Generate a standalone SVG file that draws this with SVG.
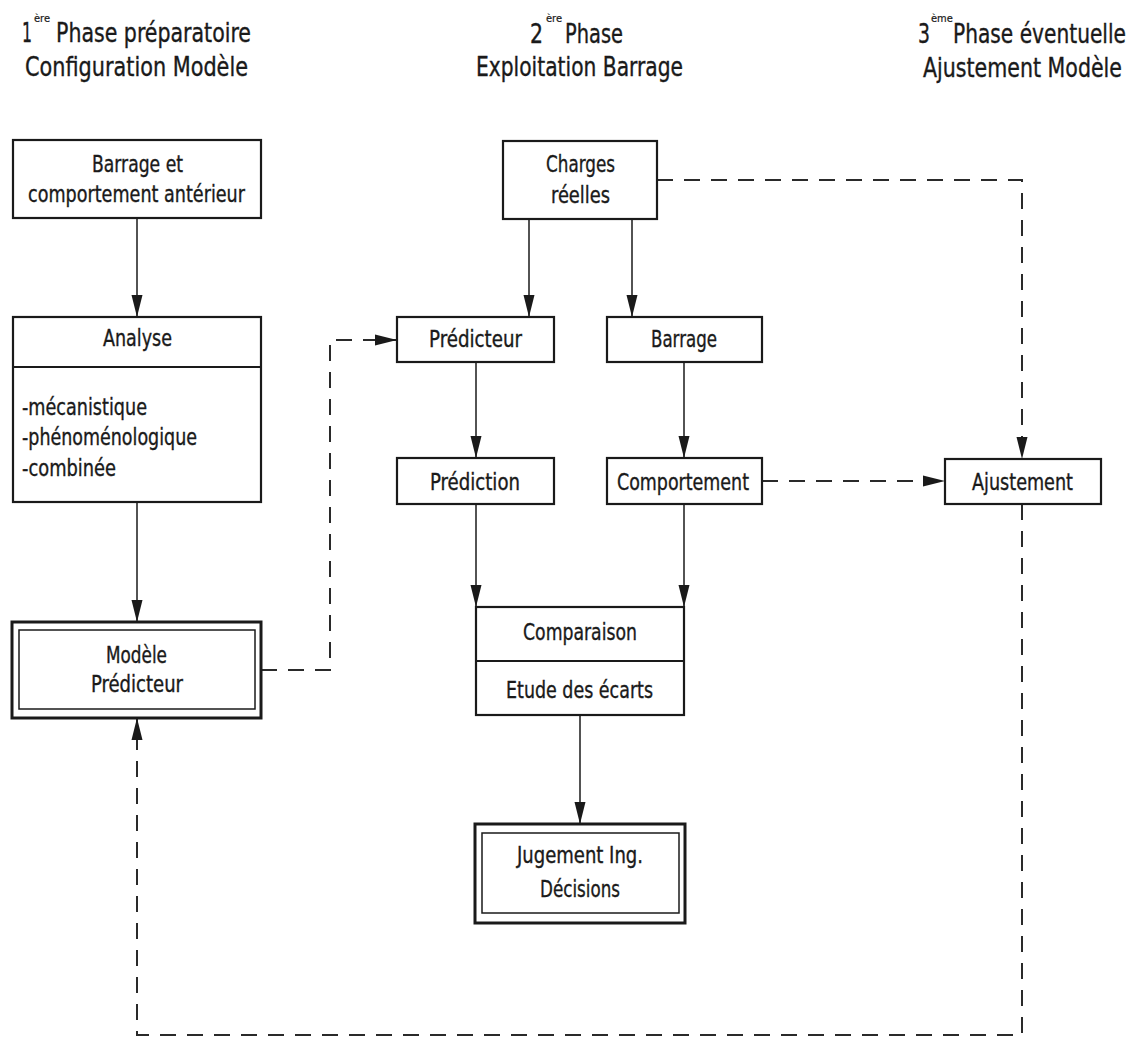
<svg xmlns="http://www.w3.org/2000/svg" width="1136" height="1040" viewBox="0 0 1136 1040">
<defs>
<style>
text{font-family:"DejaVu Sans Condensed","DejaVu Sans",sans-serif;font-stretch:condensed;fill:#1a1a1a;stroke:#1a1a1a;stroke-width:0.35}
.t{font-size:23px;text-anchor:middle}
.l{font-size:23px}
.h{font-size:26px}
.s{font-size:11px;stroke-width:0.2}
.box{fill:#fff;stroke:#1a1a1a;stroke-width:2.2}
.outer{fill:#fff;stroke:#1a1a1a;stroke-width:3}
.inner{fill:none;stroke:#1a1a1a;stroke-width:1.5}
.sep{stroke:#1a1a1a;stroke-width:2}
.c{fill:none;stroke:#1a1a1a;stroke-width:1.5}
.d{fill:none;stroke:#2a2a2a;stroke-width:2;stroke-dasharray:16 11}
</style>
<marker id="ah" markerUnits="userSpaceOnUse" markerWidth="22" markerHeight="12" viewBox="0 0 22 12" refX="22" refY="6" orient="auto">
<path d="M0,0.5 L22,6 L0,11.5 Z" fill="#1a1a1a"/>
</marker>
</defs>

<g id="titles">
<text class="h" x="22" y="42" textLength="10" lengthAdjust="spacingAndGlyphs">1</text><text class="s" x="34" y="22">ère</text>
<text class="h" x="56" y="42" textLength="195" lengthAdjust="spacingAndGlyphs">Phase préparatoire</text>
<text class="h" x="25" y="76" textLength="223" lengthAdjust="spacingAndGlyphs">Configuration Modèle</text>
<text class="h" x="530" y="43" textLength="13" lengthAdjust="spacingAndGlyphs">2</text><text class="s" x="546" y="22">ère</text>
<text class="h" x="565" y="43" textLength="58" lengthAdjust="spacingAndGlyphs">Phase</text>
<text class="h" x="476" y="76" textLength="207" lengthAdjust="spacingAndGlyphs">Exploitation Barrage</text>
<text class="h" x="918" y="43" textLength="12" lengthAdjust="spacingAndGlyphs">3</text><text class="s" x="931" y="22">ème</text>
<text class="h" x="953" y="43" textLength="173" lengthAdjust="spacingAndGlyphs">Phase éventuelle</text>
<text class="h" x="923" y="77" textLength="199" lengthAdjust="spacingAndGlyphs">Ajustement Modèle</text>
</g>

<g id="connectors">
<line class="c" x1="137" y1="218" x2="137" y2="317" marker-end="url(#ah)"/>
<line class="c" x1="137" y1="502" x2="137" y2="622" marker-end="url(#ah)"/>
<line class="c" x1="529" y1="219" x2="529" y2="317" marker-end="url(#ah)"/>
<line class="c" x1="632" y1="219" x2="632" y2="317" marker-end="url(#ah)"/>
<line class="c" x1="476" y1="362" x2="476" y2="458" marker-end="url(#ah)"/>
<line class="c" x1="684" y1="362" x2="684" y2="458" marker-end="url(#ah)"/>
<line class="c" x1="476" y1="504" x2="476" y2="607" marker-end="url(#ah)"/>
<line class="c" x1="684" y1="504" x2="684" y2="607" marker-end="url(#ah)"/>
<line class="c" x1="580" y1="715" x2="580" y2="824" marker-end="url(#ah)"/>
<polyline class="d" points="261,670 330,670 330,340 397,340" marker-end="url(#ah)"/>
<polyline class="d" points="657,180 1022,180 1022,459" marker-end="url(#ah)"/>
<line class="d" x1="762" y1="481" x2="945" y2="481" marker-end="url(#ah)"/>
<polyline class="d" points="1022,504 1022,1035 137,1035 137,718" marker-end="url(#ah)"/>
</g>

<g id="n-barrage-anterieur">
<rect class="box" x="13" y="140" width="248" height="78"/>
<text class="t" x="137.5" y="172" textLength="91" lengthAdjust="spacingAndGlyphs">Barrage et</text>
<text class="t" x="136.5" y="202" textLength="217" lengthAdjust="spacingAndGlyphs">comportement antérieur</text>
</g>

<g id="n-analyse">
<rect class="box" x="13" y="317" width="248" height="185"/>
<line class="sep" x1="13" y1="367" x2="261" y2="367"/>
<text class="t" x="137.5" y="346" textLength="69" lengthAdjust="spacingAndGlyphs">Analyse</text>
<text class="l" x="22" y="415" textLength="125" lengthAdjust="spacingAndGlyphs">-mécanistique</text>
<text class="l" x="22" y="445" textLength="175" lengthAdjust="spacingAndGlyphs">-phénoménologique</text>
<text class="l" x="22" y="476" textLength="94" lengthAdjust="spacingAndGlyphs">-combinée</text>
</g>

<g id="n-modele-predicteur">
<rect class="outer" x="12" y="622" width="249" height="96"/>
<rect class="inner" x="19" y="630" width="236" height="79"/>
<text class="t" x="136.5" y="663" textLength="61" lengthAdjust="spacingAndGlyphs">Modèle</text>
<text class="t" x="137" y="692" textLength="92" lengthAdjust="spacingAndGlyphs">Prédicteur</text>
</g>

<g id="n-charges">
<rect class="box" x="503" y="141" width="154" height="78"/>
<text class="t" x="580.5" y="172" textLength="69" lengthAdjust="spacingAndGlyphs">Charges</text>
<text class="t" x="580.5" y="203" textLength="59" lengthAdjust="spacingAndGlyphs">réelles</text>
</g>

<g id="n-predicteur">
<rect class="box" x="397" y="317" width="157" height="45"/>
<text class="t" x="475.5" y="347" textLength="93" lengthAdjust="spacingAndGlyphs">Prédicteur</text>
</g>

<g id="n-barrage">
<rect class="box" x="607" y="317" width="155" height="45"/>
<text class="t" x="684" y="347" textLength="66" lengthAdjust="spacingAndGlyphs">Barrage</text>
</g>

<g id="n-prediction">
<rect class="box" x="397" y="458" width="157" height="46"/>
<text class="t" x="475" y="490" textLength="90" lengthAdjust="spacingAndGlyphs">Prédiction</text>
</g>

<g id="n-comportement">
<rect class="box" x="607" y="458" width="155" height="46"/>
<text class="t" x="683" y="490" textLength="132" lengthAdjust="spacingAndGlyphs">Comportement</text>
</g>

<g id="n-ajustement">
<rect class="box" x="945" y="459" width="156" height="45"/>
<text class="t" x="1022.5" y="490" textLength="101" lengthAdjust="spacingAndGlyphs">Ajustement</text>
</g>

<g id="n-comparaison">
<rect class="box" x="476" y="607" width="208" height="108"/>
<line class="sep" x1="476" y1="661" x2="684" y2="661"/>
<text class="t" x="580" y="640" textLength="114" lengthAdjust="spacingAndGlyphs">Comparaison</text>
<text class="t" x="579.5" y="698" textLength="147" lengthAdjust="spacingAndGlyphs">Etude des écarts</text>
</g>

<g id="n-jugement">
<rect class="outer" x="475" y="824" width="210" height="99"/>
<rect class="inner" x="482" y="833" width="197" height="80"/>
<text class="t" x="580" y="863" textLength="126" lengthAdjust="spacingAndGlyphs">Jugement Ing.</text>
<text class="t" x="580" y="897" textLength="80" lengthAdjust="spacingAndGlyphs">Décisions</text>
</g>
</svg>
